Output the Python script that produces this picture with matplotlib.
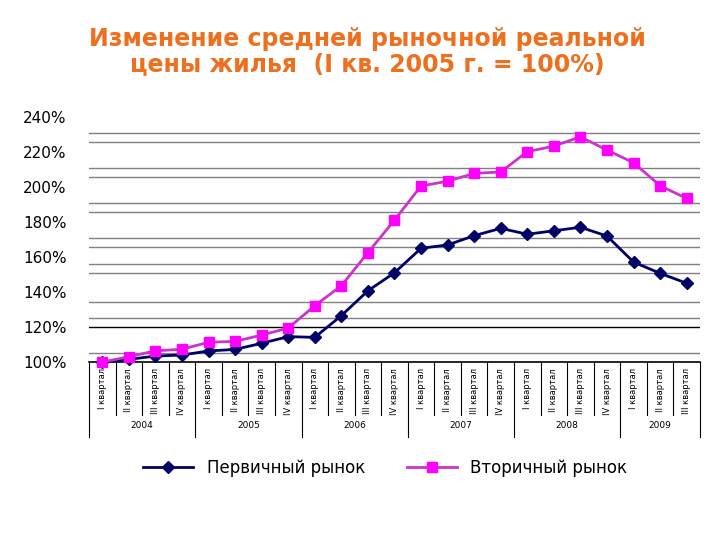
import matplotlib.pyplot as plt
import numpy as np
from matplotlib.transforms import blended_transform_factory

years = ["2004", "2005", "2006", "2007", "2008", "2009"]
quarters_per_year = [4, 4, 4, 4, 4, 3]
quarter_names = ["I квартал", "II квартал", "III квартал", "IV квартал"]

primary = [100, 101.5, 103.4, 104, 106.3, 107.2, 110.7, 114.5, 114.1, 126.5,
           140.7, 151, 165, 166.9, 172.2, 176.4, 173, 175, 177, 172,
           157.1, 150.7, 145]
secondary = [100, 103, 106.4, 107.3, 111.3, 111.8, 115.4, 119.4, 132.2, 143.6,
             162.5, 181.1, 200.6, 203.3, 207.8, 208.6, 220.2, 223.4, 228.7, 221.1,
             213.9, 200.7, 193.5]

# grid levels as they appear in the source picture
grid_levels = [105, 125, 134.5, 150.7, 155.8, 165.5, 170.7, 185.5, 190.7,
               205.5, 211, 226, 231]
yticks = [100, 120, 140, 160, 180, 200, 220, 240]

labels = []
for n in quarters_per_year:
    labels += quarter_names[:n]
x = np.arange(len(labels))

fig = plt.figure(figsize=(7.2, 5.4), dpi=100)
ax = fig.add_axes([0.1236, 0.3296, 0.8486, 0.4537])

for g in grid_levels:
    ax.axhline(g, color="#808080", lw=1.0, zorder=1)
ax.axhline(120, color="black", lw=1.0, zorder=1)

ax.plot(x, primary, "-D", color="#000066", ms=6, lw=2, zorder=3,
        clip_on=False, label="Первичный рынок")
ax.plot(x, secondary, "-s", color="#CC33CC", mfc="#FF00FF", mec="#FF00FF",
        ms=7, lw=2, zorder=4, clip_on=False, label="Вторичный рынок")

ax.set_xlim(-0.5, len(x) - 0.5)
ax.set_ylim(100, 240)
ax.set_yticks(yticks)
ax.set_yticklabels([f"{v}%" for v in yticks], fontsize=11)
ax.tick_params(axis="y", length=0, pad=16)
ax.set_xticks([])
for s in ("left", "right", "top"):
    ax.spines[s].set_visible(False)
ax.spines["bottom"].set_linewidth(1.2)

trans = blended_transform_factory(ax.transData, ax.transAxes)
for xi, lab in zip(x, labels):
    ax.text(xi, -0.025, lab, rotation=90, ha="center", va="top",
            fontsize=6, transform=trans)

# category dividers and year groups
bounds = np.cumsum([0] + quarters_per_year) - 0.5
for b in np.arange(-0.5, len(x) + 0.5):
    long = b in bounds
    ax.plot([b, b], [0, -0.306 if long else -0.216], color="black", lw=0.8,
            transform=trans, clip_on=False)
for yr, lo, hi in zip(years, bounds[:-1], bounds[1:]):
    ax.text((lo + hi) / 2, -0.26, yr, ha="center", va="center", fontsize=6.5,
            transform=trans)

fig.text(0.51, 0.905, "Изменение средней рыночной реальной\nцены жилья  (I кв. 2005 г. = 100%)",
         ha="center", va="center", fontsize=17, fontweight="bold",
         family="DejaVu Sans", color="#EE6F1E", linespacing=1.05)

fig.legend(loc="center", bbox_to_anchor=(0.535, 0.133), ncol=2, frameon=False,
           fontsize=12, handlelength=3, columnspacing=2.5)

fig.savefig("out.png", dpi=100)
